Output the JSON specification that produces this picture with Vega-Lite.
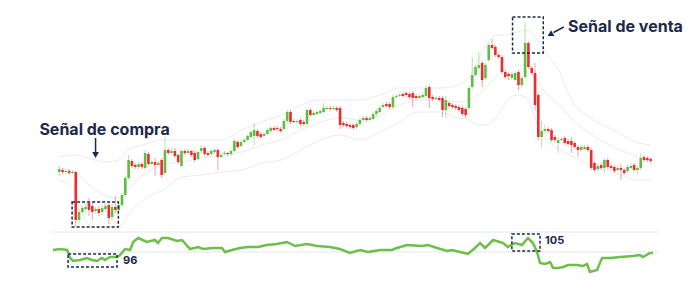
{
"$schema": "https://vega.github.io/schema/vega-lite/v6.json",
"padding": 0,
"spacing": 0,
"background": "white",
"config": {"view": {"stroke": null}, "axis": {"disable": true}},
"datasets": {
"candles": [
{"t":0,"o":58,"c":61,"h":64,"l":54},{"t":1,"o":60,"c":58,"h":62,"l":56},{"t":2,"o":58,"c":59,"h":61,"l":56},{"t":3,"o":59,"c":57,"h":61,"l":55},{"t":4,"o":57,"c":58,"h":60,"l":56},
{"t":5,"o":58,"c":10,"h":59,"l":4},{"t":6,"o":10,"c":18,"h":21,"l":7},{"t":7,"o":18,"c":22,"h":24,"l":16},{"t":8,"o":21,"c":23,"h":27,"l":18},{"t":9,"o":27,"c":20,"h":32,"l":14},
{"t":10,"o":24,"c":18,"h":28,"l":10},{"t":11,"o":19,"c":21,"h":23,"l":17},{"t":12,"o":21,"c":17,"h":24,"l":14},{"t":13,"o":18,"c":22,"h":25,"l":15},{"t":14,"o":21,"c":24,"h":27,"l":19},
{"t":15,"o":25,"c":12,"h":27,"l":6},{"t":16,"o":13,"c":23,"h":26,"l":10},{"t":17,"o":23,"c":20,"h":34,"l":17},{"t":18,"o":20,"c":25,"h":27,"l":18},{"t":19,"o":25,"c":35,"h":37,"l":23},
{"t":20,"o":35,"c":52,"h":54,"l":33},{"t":21,"o":52,"c":70,"h":75,"l":50},{"t":22,"o":69,"c":64,"h":71,"l":62},{"t":23,"o":65,"c":63,"h":67,"l":61},{"t":24,"o":63,"c":66,"h":68,"l":61},
{"t":25,"o":66,"c":63,"h":68,"l":61},{"t":26,"o":62,"c":77,"h":80,"l":60},{"t":27,"o":76,"c":66,"h":78,"l":64},{"t":28,"o":66,"c":68,"h":70,"l":65},{"t":29,"o":68,"c":65,"h":72,"l":54},
{"t":30,"o":65,"c":67,"h":69,"l":64},{"t":31,"o":70,"c":55,"h":72,"l":52},{"t":32,"o":57,"c":80,"h":93,"l":55},{"t":33,"o":80,"c":77,"h":82,"l":75},{"t":34,"o":77,"c":79,"h":82,"l":76},
{"t":35,"o":79,"c":74,"h":82,"l":72},{"t":36,"o":75,"c":68,"h":77,"l":66},{"t":37,"o":64,"c":79,"h":81,"l":63},{"t":38,"o":79,"c":77,"h":81,"l":75},{"t":39,"o":77,"c":79,"h":81,"l":76},
{"t":40,"o":79,"c":75,"h":80,"l":73},{"t":41,"o":77,"c":70,"h":80,"l":68},{"t":42,"o":71,"c":78,"h":80,"l":70},{"t":43,"o":79,"c":82,"h":85,"l":77},{"t":44,"o":82,"c":76,"h":84,"l":74},
{"t":45,"o":77,"c":75,"h":79,"l":73},{"t":46,"o":76,"c":79,"h":81,"l":74},{"t":47,"o":78,"c":80,"h":82,"l":76},{"t":48,"o":80,"c":73,"h":82,"l":60},{"t":49,"o":73,"c":75,"h":77,"l":72},
{"t":50,"o":76,"c":77,"h":79,"l":75},{"t":51,"o":77,"c":76,"h":78,"l":74},{"t":52,"o":76,"c":79,"h":81,"l":75},{"t":53,"o":79,"c":89,"h":91,"l":78},{"t":54,"o":88,"c":83,"h":90,"l":81},
{"t":55,"o":84,"c":88,"h":90,"l":83},{"t":56,"o":88,"c":90,"h":92,"l":87},{"t":57,"o":90,"c":94,"h":96,"l":89},{"t":58,"o":93,"c":98,"h":100,"l":92},{"t":59,"o":94,"c":100,"h":107,"l":85},
{"t":60,"o":99,"c":94,"h":101,"l":92},{"t":61,"o":96,"c":93,"h":98,"l":91},{"t":62,"o":94,"c":96,"h":98,"l":93},{"t":63,"o":96,"c":100,"h":102,"l":95},{"t":64,"o":99,"c":102,"h":104,"l":98},
{"t":65,"o":102,"c":100,"h":104,"l":99},{"t":66,"o":102,"c":101,"h":104,"l":99},{"t":67,"o":101,"c":99,"h":103,"l":97},{"t":68,"o":101,"c":109,"h":111,"l":99},{"t":69,"o":109,"c":118,"h":120,"l":107},
{"t":70,"o":118,"c":108,"h":120,"l":106},{"t":71,"o":109,"c":108,"h":111,"l":107},{"t":72,"o":108,"c":109,"h":111,"l":106},{"t":73,"o":110,"c":106,"h":112,"l":104},{"t":74,"o":108,"c":106,"h":110,"l":104},
{"t":75,"o":106,"c":120,"h":122,"l":104},{"t":76,"o":120,"c":115,"h":122,"l":113},{"t":77,"o":115,"c":117,"h":119,"l":114},{"t":78,"o":116,"c":118,"h":120,"l":115},{"t":79,"o":117,"c":119,"h":121,"l":116},
{"t":80,"o":118,"c":122,"h":127,"l":117},{"t":81,"o":121,"c":122,"h":124,"l":120},{"t":82,"o":122,"c":121,"h":124,"l":119},{"t":83,"o":121,"c":122,"h":124,"l":120},{"t":84,"o":122,"c":120,"h":124,"l":118},
{"t":85,"o":122,"c":105,"h":124,"l":101},{"t":86,"o":107,"c":105,"h":109,"l":103},{"t":87,"o":106,"c":104,"h":108,"l":102},{"t":88,"o":105,"c":103,"h":107,"l":101},{"t":89,"o":105,"c":102,"h":107,"l":100},
{"t":90,"o":103,"c":106,"h":108,"l":101},{"t":91,"o":106,"c":110,"h":112,"l":104},{"t":92,"o":110,"c":112,"h":114,"l":108},{"t":93,"o":112,"c":110,"h":114,"l":108},{"t":94,"o":110,"c":112,"h":114,"l":109},
{"t":95,"o":111,"c":116,"h":118,"l":110},{"t":96,"o":116,"c":119,"h":121,"l":114},{"t":97,"o":118,"c":122,"h":124,"l":117},{"t":98,"o":123,"c":125,"h":127,"l":122},{"t":99,"o":126,"c":124,"h":128,"l":122},
{"t":100,"o":126,"c":123,"h":128,"l":121},{"t":101,"o":123,"c":133,"h":135,"l":121},{"t":102,"o":133,"c":134,"h":136,"l":132},{"t":103,"o":134,"c":135,"h":137,"l":133},{"t":104,"o":136,"c":134,"h":138,"l":132},
{"t":105,"o":137,"c":135,"h":139,"l":133},{"t":106,"o":136,"c":133,"h":138,"l":131},{"t":107,"o":137,"c":132,"h":139,"l":123},{"t":108,"o":134,"c":132,"h":136,"l":130},{"t":109,"o":132,"c":134,"h":136,"l":131},
{"t":110,"o":133,"c":135,"h":137,"l":132},{"t":111,"o":134,"c":142,"h":144,"l":132},{"t":112,"o":143,"c":132,"h":145,"l":122},{"t":113,"o":133,"c":131,"h":135,"l":129},{"t":114,"o":131,"c":132,"h":134,"l":130},
{"t":115,"o":132,"c":130,"h":134,"l":129},{"t":116,"o":132,"c":120,"h":134,"l":113},{"t":117,"o":120,"c":130,"h":134,"l":112},{"t":118,"o":127,"c":124,"h":129,"l":122},{"t":119,"o":125,"c":123,"h":127,"l":121},
{"t":120,"o":124,"c":122,"h":126,"l":120},{"t":121,"o":123,"c":120,"h":125,"l":118},{"t":122,"o":122,"c":116,"h":124,"l":114},{"t":123,"o":121,"c":115,"h":123,"l":112},{"t":124,"o":122,"c":142,"h":144,"l":120},
{"t":125,"o":143,"c":155,"h":173,"l":141},{"t":126,"o":155,"c":163,"h":165,"l":153},{"t":127,"o":162,"c":165,"h":178,"l":160},{"t":128,"o":167,"c":150,"h":169,"l":143},{"t":129,"o":152,"c":165,"h":167,"l":150},
{"t":130,"o":170,"c":185,"h":187,"l":168},{"t":131,"o":185,"c":182,"h":191,"l":180},{"t":132,"o":183,"c":175,"h":185,"l":173},{"t":133,"o":175,"c":173,"h":177,"l":171},{"t":134,"o":173,"c":158,"h":175,"l":156},
{"t":135,"o":158,"c":153,"h":160,"l":151},{"t":136,"o":156,"c":154,"h":158,"l":150},{"t":137,"o":152,"c":156,"h":158,"l":150},{"t":138,"o":150,"c":157,"h":159,"l":149},{"t":139,"o":158,"c":145,"h":160,"l":140},
{"t":140,"o":145,"c":152,"h":154,"l":143},{"t":141,"o":153,"c":187,"h":208,"l":151},{"t":142,"o":187,"c":163,"h":189,"l":161},{"t":143,"o":162,"c":157,"h":164,"l":155},{"t":144,"o":157,"c":125,"h":167,"l":120},
{"t":145,"o":135,"c":93,"h":137,"l":90},{"t":146,"o":93,"c":99,"h":109,"l":83},{"t":147,"o":99,"c":101,"h":105,"l":97},{"t":148,"o":101,"c":99,"h":103,"l":97},{"t":149,"o":100,"c":90,"h":102,"l":88},
{"t":150,"o":93,"c":90,"h":95,"l":88},{"t":151,"o":87,"c":90,"h":93,"l":77},{"t":152,"o":90,"c":91,"h":93,"l":89},{"t":153,"o":92,"c":87,"h":94,"l":85},{"t":154,"o":89,"c":86,"h":91,"l":84},
{"t":155,"o":89,"c":85,"h":93,"l":77},{"t":156,"o":87,"c":83,"h":89,"l":81},{"t":157,"o":83,"c":80,"h":85,"l":73},{"t":158,"o":80,"c":83,"h":85,"l":79},{"t":159,"o":81,"c":83,"h":85,"l":80},
{"t":160,"o":83,"c":80,"h":85,"l":78},{"t":161,"o":80,"c":62,"h":82,"l":60},{"t":162,"o":67,"c":60,"h":69,"l":58},{"t":163,"o":61,"c":64,"h":66,"l":59},{"t":164,"o":65,"c":62,"h":67,"l":60},
{"t":165,"o":62,"c":70,"h":72,"l":57},{"t":166,"o":70,"c":63,"h":72,"l":61},{"t":167,"o":64,"c":62,"h":66,"l":60},{"t":168,"o":63,"c":59,"h":65,"l":57},{"t":169,"o":60,"c":62,"h":64,"l":59},
{"t":170,"o":62,"c":60,"h":66,"l":50},{"t":171,"o":60,"c":57,"h":62,"l":55},{"t":172,"o":59,"c":63,"h":65,"l":57},{"t":173,"o":62,"c":64,"h":66,"l":61},{"t":174,"o":65,"c":60,"h":67,"l":58},
{"t":175,"o":60,"c":62,"h":64,"l":55},{"t":176,"o":62,"c":72,"h":77,"l":60},{"t":177,"o":73,"c":70,"h":75,"l":68},{"t":178,"o":72,"c":70,"h":74,"l":68},{"t":179,"o":71,"c":69,"h":73,"l":67}
],
"bands": [
{"t":0,"up":73,"mid":62,"lo":50},{"t":4.5,"up":75,"mid":58,"lo":40},{"t":9,"up":72,"mid":45,"lo":5},{"t":13.4,"up":68,"mid":35,"lo":2},{"t":17.9,"up":70,"mid":32,"lo":2},
{"t":20.9,"up":80,"mid":40,"lo":15},{"t":25.4,"up":85,"mid":55,"lo":30},{"t":31.3,"up":90,"mid":65,"lo":40},{"t":37.3,"up":90,"mid":68,"lo":53},{"t":43.3,"up":90,"mid":72,"lo":55},
{"t":49.2,"up":90,"mid":74,"lo":58},{"t":55.2,"up":100,"mid":78,"lo":60},{"t":61.2,"up":108,"mid":85,"lo":67},{"t":67.1,"up":115,"mid":90,"lo":70},{"t":73.1,"up":125,"mid":100,"lo":80},
{"t":79.1,"up":130,"mid":108,"lo":90},{"t":85,"up":130,"mid":112,"lo":95},{"t":91,"up":130,"mid":110,"lo":90},{"t":97,"up":135,"mid":115,"lo":98},{"t":102.9,"up":142,"mid":125,"lo":108},
{"t":108.9,"up":142,"mid":130,"lo":118},{"t":114.9,"up":142,"mid":130,"lo":118},{"t":120.8,"up":145,"mid":128,"lo":112},{"t":123.8,"up":152,"mid":130,"lo":110},{"t":126.8,"up":170,"mid":135,"lo":105},
{"t":129.8,"up":188,"mid":145,"lo":105},{"t":132.8,"up":195,"mid":155,"lo":115},{"t":135.7,"up":195,"mid":162,"lo":130},{"t":138.7,"up":198,"mid":165,"lo":135},{"t":141.7,"up":200,"mid":165,"lo":132},
{"t":144.7,"up":190,"mid":150,"lo":105},{"t":147.7,"up":175,"mid":135,"lo":90},{"t":151.6,"up":157,"mid":125,"lo":80},{"t":154.5,"up":133,"mid":113,"lo":75},{"t":160.5,"up":113,"mid":97,"lo":65},
{"t":167.7,"up":100,"mid":83,"lo":58},{"t":175.4,"up":87,"mid":73,"lo":50},{"t":179,"up":85,"mid":68,"lo":50}
],
"ind": [
{"t":-0.6,"v":101},{"t":1.5,"v":101.5},{"t":3.6,"v":101},{"t":4.5,"v":97},{"t":5.4,"v":95.5},{"t":7.5,"v":96},{"t":9.5,"v":97},{"t":11,"v":96},{"t":12.5,"v":95.5},{"t":14,"v":97},
{"t":14.9,"v":96},{"t":16.4,"v":97.5},{"t":18.5,"v":97.5},{"t":19.4,"v":98.5},{"t":20.9,"v":101.5},{"t":22.4,"v":101},{"t":23.3,"v":105},{"t":24.8,"v":107},{"t":27.4,"v":105},{"t":29.8,"v":106},
{"t":30.7,"v":104.5},{"t":31.9,"v":107},{"t":33.7,"v":107},{"t":36.4,"v":105.5},{"t":37.9,"v":106},{"t":40.3,"v":101.5},{"t":42.7,"v":102.5},{"t":44.2,"v":101.5},{"t":47.1,"v":102},{"t":49.8,"v":102},
{"t":50.7,"v":100},{"t":52.8,"v":101},{"t":55.2,"v":102},{"t":57.6,"v":102.5},{"t":60.6,"v":102.5},{"t":63.2,"v":103.5},{"t":66.2,"v":104},{"t":69.2,"v":105},{"t":71.6,"v":103},{"t":75.2,"v":104},
{"t":78.2,"v":103},{"t":82,"v":102.5},{"t":85,"v":101.5},{"t":88,"v":99.5},{"t":91,"v":101},{"t":93.4,"v":100},{"t":97,"v":101},{"t":100.5,"v":101},{"t":102,"v":102},{"t":105,"v":103.5},
{"t":109.5,"v":103},{"t":111.3,"v":103.5},{"t":114,"v":102},{"t":117,"v":100.5},{"t":118.4,"v":101},{"t":120.8,"v":100},{"t":123.2,"v":99},{"t":125.3,"v":102},{"t":126.8,"v":104.5},{"t":128.3,"v":102},
{"t":130.7,"v":106},{"t":133.7,"v":104.5},{"t":135.1,"v":102.5},{"t":137.2,"v":104.5},{"t":139.3,"v":103.5},{"t":141.1,"v":107},{"t":142.6,"v":104.5},{"t":143.8,"v":100},{"t":144.7,"v":94.5},{"t":146.2,"v":94},
{"t":147.7,"v":95},{"t":148.6,"v":92},{"t":150.1,"v":92},{"t":151.6,"v":92.5},{"t":153,"v":93.5},{"t":155.7,"v":93.5},{"t":157.5,"v":93},{"t":158.7,"v":94},{"t":159.6,"v":90},{"t":161.7,"v":91},
{"t":163.2,"v":97},{"t":165.6,"v":97},{"t":168.6,"v":97.5},{"t":172.4,"v":98},{"t":174.5,"v":98.5},{"t":175.4,"v":97.5},{"t":177.5,"v":99.5},{"t":178.4,"v":99.5}
]
},
"vconcat": [
{
"width": 700, "height": 230,
"encoding": {"x": {"field": "t", "type": "quantitative", "scale": {"domain": [-16.41, 192.42], "nice": false, "zero": false}}},
"layer": [
{"data": {"name": "bands"}, "mark": {"type": "line", "color": "#ebebeb", "strokeWidth": 1, "interpolate": "monotone", "clip": true},
 "encoding": {"y": {"field": "up", "type": "quantitative", "scale": {"domain": [0, 230], "nice": false, "zero": false}}}},
{"data": {"name": "bands"}, "mark": {"type": "line", "color": "#ebebeb", "strokeWidth": 1, "interpolate": "monotone", "clip": true},
 "encoding": {"y": {"field": "mid", "type": "quantitative"}}},
{"data": {"name": "bands"}, "mark": {"type": "line", "color": "#ebebeb", "strokeWidth": 1, "interpolate": "monotone", "clip": true},
 "encoding": {"y": {"field": "lo", "type": "quantitative"}}},
{"data": {"name": "candles"}, "mark": {"type": "rule", "strokeWidth": 1, "opacity": 0.45},
 "encoding": {"y": {"field": "l", "type": "quantitative"}, "y2": {"field": "h"},
  "color": {"condition": {"test": "datum.c >= datum.o", "value": "#5fbd45"}, "value": "#ec2c2f"}}},
{"data": {"name": "candles"}, "mark": {"type": "bar", "size": 2.6, "orient": "vertical"},
 "encoding": {"y": {"field": "o", "type": "quantitative"}, "y2": {"field": "c"},
  "color": {"condition": {"test": "datum.c >= datum.o", "value": "#5fbd45"}, "value": "#ec2c2f"}}},
{"data": {"values": [{"t": 3.9, "t2": 17.9, "p": 3, "p2": 28}, {"t": 137.2, "t2": 146.5, "p": 177, "p2": 213}]},
 "mark": {"type": "rect", "fillOpacity": 0, "stroke": "#1b2a4a", "strokeWidth": 1.5, "strokeDash": [3, 2]},
 "encoding": {"x2": {"field": "t2"}, "y": {"field": "p", "type": "quantitative"}, "y2": {"field": "p2"}}},
{"data": {"values": [{"t": 11, "t2": 11, "p": 92, "p2": 78}, {"t": 152.7, "t2": 149.6, "p": 203, "p2": 197.5}]},
 "mark": {"type": "rule", "color": "#1b2a4a", "strokeWidth": 1.5},
 "encoding": {"x2": {"field": "t2"}, "y": {"field": "p", "type": "quantitative"}, "y2": {"field": "p2"}}},
{"data": {"values": [{"t": 11, "p": 75}]},
 "mark": {"type": "point", "shape": "triangle-down", "filled": true, "color": "#1b2a4a", "size": 45, "opacity": 1},
 "encoding": {"y": {"field": "p", "type": "quantitative"}}},
{"data": {"values": [{"t": 148.6, "p": 195.5}]},
 "mark": {"type": "point", "shape": "triangle-up", "angle": 240, "filled": true, "color": "#1b2a4a", "size": 45, "opacity": 1},
 "encoding": {"y": {"field": "p", "type": "quantitative"}}},
{"data": {"values": [{"t": -6, "p": 100, "label": "Señal de compra"}, {"t": 154, "p": 203, "label": "Señal de venta"}]},
 "mark": {"type": "text", "align": "left", "baseline": "middle", "font": "Inter", "fontWeight": 700, "fontSize": 16, "color": "#1b2a4a"},
 "encoding": {"y": {"field": "p", "type": "quantitative"}, "text": {"field": "label"}}}
]
},
{
"width": 700, "height": 64,
"encoding": {"x": {"field": "t", "type": "quantitative", "scale": {"domain": [-16.41, 192.42], "nice": false, "zero": false}}},
"layer": [
{"data": {"values": [{"t": -0.9, "t2": 179.9, "v": 110}, {"t": -0.9, "t2": 179.9, "v": 100}]},
 "mark": {"type": "rule", "color": "#e6e6e6", "strokeWidth": 1},
 "encoding": {"x2": {"field": "t2"}, "y": {"field": "v", "type": "quantitative", "scale": {"domain": [79, 111], "nice": false, "zero": false}}}},
{"data": {"name": "ind"}, "mark": {"type": "line", "color": "#6cc04a", "strokeWidth": 2.5, "interpolate": "linear"},
 "encoding": {"y": {"field": "v", "type": "quantitative"}}},
{"data": {"values": [{"t": 3.9, "t2": 18.5, "v": 92.5, "v2": 99}, {"t": 136.3, "t2": 144.7, "v": 100.5, "v2": 109}]},
 "mark": {"type": "rect", "fillOpacity": 0, "stroke": "#1b2a4a", "strokeWidth": 1.5, "strokeDash": [3, 2]},
 "encoding": {"x2": {"field": "t2"}, "y": {"field": "v", "type": "quantitative"}, "y2": {"field": "v2"}}},
{"data": {"values": [{"t": 20.3, "v": 95.5, "label": "96"}, {"t": 146.2, "v": 105.5, "label": "105"}]},
 "mark": {"type": "text", "align": "left", "baseline": "middle", "font": "Inter", "fontWeight": 700, "fontSize": 11, "color": "#1b2a4a"},
 "encoding": {"y": {"field": "v", "type": "quantitative"}, "text": {"field": "label"}}}
]
}
]
}
